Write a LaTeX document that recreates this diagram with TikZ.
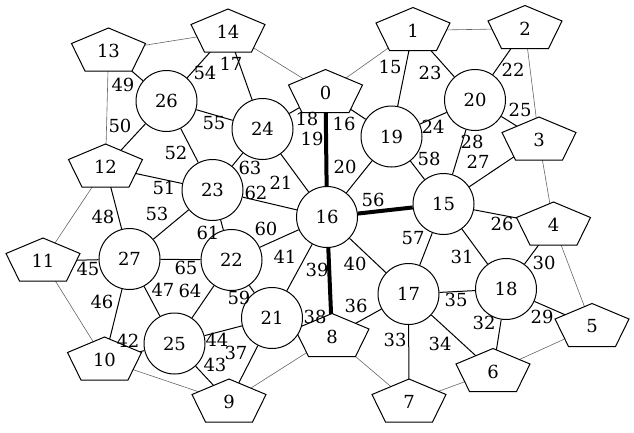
\documentclass[tikz,border=0pt]{standalone}
\usepackage{fontspec}
\setmainfont{DejaVu Serif}
\usepackage{tikz}
\usetikzlibrary{backgrounds}

\tikzset{
  vround/.style={circle, draw=black, fill=white, line width=1pt, minimum size=61pt},
  link/.style={black, line width=1pt},
  rim/.style={black!60, line width=0.6pt},
  heavy/.style={black, line width=4pt}
}
% pentagon vertex: name, centre, text
\newcommand{\pentnode}[3]{%
  \filldraw [black, fill=white, line width=1pt] (#2) +(0,21.5) -- +(37,6) -- +(23.5,-21.5) -- +(-23.5,-21.5) -- +(-37,6) -- cycle;
  \path (#2) ++(0,-1.5) node (#1) {#3};
}

\begin{document}
\begin{tikzpicture}[x=1pt,y=1pt,every node/.append style={font=\fontsize{18pt}{21pt}\selectfont}]
\tikzstyle{every node}+=[inner sep=0pt]
\useasboundingbox (0,0) rectangle (634,-432);
% outer pentagons
\pentnode{v0}{325.5,-91}{0}
\pentnode{v1}{413,-29}{1}
\pentnode{v2}{525,-27}{2}
\pentnode{v3}{539,-138.5}{3}
\pentnode{v4}{553.5,-223.5}{4}
\pentnode{v5}{592,-325}{5}
\pentnode{v6}{493,-370}{6}
\pentnode{v7}{409,-400.5}{7}
\pentnode{v8}{332,-335}{8}
\pentnode{v9}{229,-400.5}{9}
\pentnode{v10}{104.5,-358.5}{10}
\pentnode{v11}{43,-259.5}{11}
\pentnode{v12}{105.5,-165.5}{12}
\pentnode{v13}{108.5,-49.5}{13}
\pentnode{v14}{228,-30.5}{14}
% inner circles
\node [vround] (v15) at (443.5,-204) {15};
\node [vround] (v16) at (327,-217) {16};
\node [vround] (v17) at (408.5,-294) {17};
\node [vround] (v18) at (506,-289) {18};
\node [vround] (v19) at (391.5,-136.5) {19};
\node [vround] (v20) at (475,-100) {20};
\node [vround] (v21) at (272,-318) {21};
\node [vround] (v22) at (231.5,-260) {22};
\node [vround] (v23) at (212.5,-190) {23};
\node [vround] (v24) at (262.5,-129) {24};
\node [vround] (v25) at (174.5,-343.5) {25};
\node [vround] (v26) at (166.5,-101) {26};
\node [vround] (v27) at (129.5,-259) {27};
\begin{pgfonlayer}{background}
% ring
\draw [rim] (v0) -- (v1);
\draw [rim] (v1) -- (v2);
\draw [rim] (v2) -- (v3);
\draw [rim] (v3) -- (v4);
\draw [rim] (v4) -- (v5);
\draw [rim] (v5) -- (v6);
\draw [rim] (v6) -- (v7);
\draw [rim] (v7) -- (v8);
\draw [rim] (v8) -- (v9);
\draw [rim] (v9) -- (v10);
\draw [rim] (v10) -- (v11);
\draw [rim] (v11) -- (v12);
\draw [rim] (v12) -- (v13);
\draw [rim] (v13) -- (v14);
\draw [rim] (v14) -- (v0);
% spokes
\draw [link] (v1) -- (v19);
\draw [link] (v0) -- (v19);
\draw [link] (v14) -- (v24);
\draw [link] (v0) -- (v24);
\draw [heavy] (v0) -- (v16);
\draw [link] (v16) -- (v19);
\draw [link] (v24) -- (v16);
\draw [link] (v2) -- (v20);
\draw [link] (v1) -- (v20);
\draw [link] (v19) -- (v20);
\draw [link] (v20) -- (v3);
\draw [link] (v15) -- (v4);
\draw [link] (v15) -- (v3);
\draw [link] (v20) -- (v15);
\draw [link] (v18) -- (v5);
\draw [link] (v18) -- (v4);
\draw [link] (v15) -- (v18);
\draw [link] (v18) -- (v6);
\draw [link] (v17) -- (v7);
\draw [link] (v17) -- (v6);
\draw [link] (v17) -- (v18);
\draw [link] (v17) -- (v8);
\draw [link] (v21) -- (v9);
\draw [link] (v21) -- (v8);
\draw [heavy] (v16) -- (v8);
\draw [link] (v16) -- (v17);
\draw [link] (v16) -- (v21);
\draw [link] (v25) -- (v10);
\draw [link] (v25) -- (v9);
\draw [link] (v25) -- (v21);
\draw [link] (v27) -- (v11);
\draw [link] (v27) -- (v10);
\draw [link] (v27) -- (v25);
\draw [link] (v27) -- (v12);
\draw [link] (v26) -- (v13);
\draw [link] (v26) -- (v12);
\draw [link] (v12) -- (v23);
\draw [link] (v26) -- (v23);
\draw [link] (v27) -- (v23);
\draw [link] (v26) -- (v14);
\draw [link] (v26) -- (v24);
\draw [heavy] (v16) -- (v15);
\draw [link] (v15) -- (v17);
\draw [link] (v19) -- (v15);
\draw [link] (v22) -- (v21);
\draw [link] (v22) -- (v16);
\draw [link] (v23) -- (v22);
\draw [link] (v23) -- (v16);
\draw [link] (v23) -- (v24);
\draw [link] (v25) -- (v22);
\draw [link] (v27) -- (v22);
\end{pgfonlayer}
% edge labels
\draw (390,-67) node (l15) {15};
\draw (344,-124) node (l16) {16};
\draw (231,-64) node (l17) {17};
\draw (307,-119) node (l18) {18};
\draw (312,-139) node (l19) {19};
\draw (345,-167) node (l20) {20};
\draw (281,-183) node (l21) {21};
\draw (513,-70) node (l22) {22};
\draw (430,-73) node (l23) {23};
\draw (433,-127) node (l24) {24};
\draw (520,-110) node (l25) {25};
\draw (502,-224) node (l26) {26};
\draw (478,-162) node (l27) {27};
\draw (472,-142) node (l28) {28};
\draw (542,-317) node (l29) {29};
\draw (544,-263) node (l30) {30};
\draw (462,-257) node (l31) {31};
\draw (484,-323) node (l32) {32};
\draw (395,-340) node (l33) {33};
\draw (440,-344) node (l34) {34};
\draw (456,-300) node (l35) {35};
\draw (356,-306) node (l36) {36};
\draw (236,-353) node (l37) {37};
\draw (315,-317) node (l38) {38};
\draw (317,-270) node (l39) {39};
\draw (355,-264) node (l40) {40};
\draw (285,-257) node (l41) {41};
\draw (128,-341) node (l42) {42};
\draw (215,-365) node (l43) {43};
\draw (217,-340) node (l44) {44};
\draw (88,-269) node (l45) {45};
\draw (102,-302) node (l46) {46};
\draw (163,-290) node (l47) {47};
\draw (103,-217) node (l48) {48};
\draw (123,-85) node (l49) {49};
\draw (120,-126) node (l50) {50};
\draw (164,-188) node (l51) {51};
\draw (176,-153) node (l52) {52};
\draw (157,-214) node (l53) {53};
\draw (205,-73) node (l54) {54};
\draw (214,-123) node (l55) {55};
\draw (373,-200) node (l56) {56};
\draw (413,-238) node (l57) {57};
\draw (429,-159) node (l58) {58};
\draw (239,-298) node (l59) {59};
\draw (266,-229) node (l60) {60};
\draw (208,-233) node (l61) {61};
\draw (256,-193) node (l62) {62};
\draw (250,-168) node (l63) {63};
\draw (190,-291) node (l64) {64};
\draw (186,-268) node (l65) {65};
\end{tikzpicture}
\end{document}
